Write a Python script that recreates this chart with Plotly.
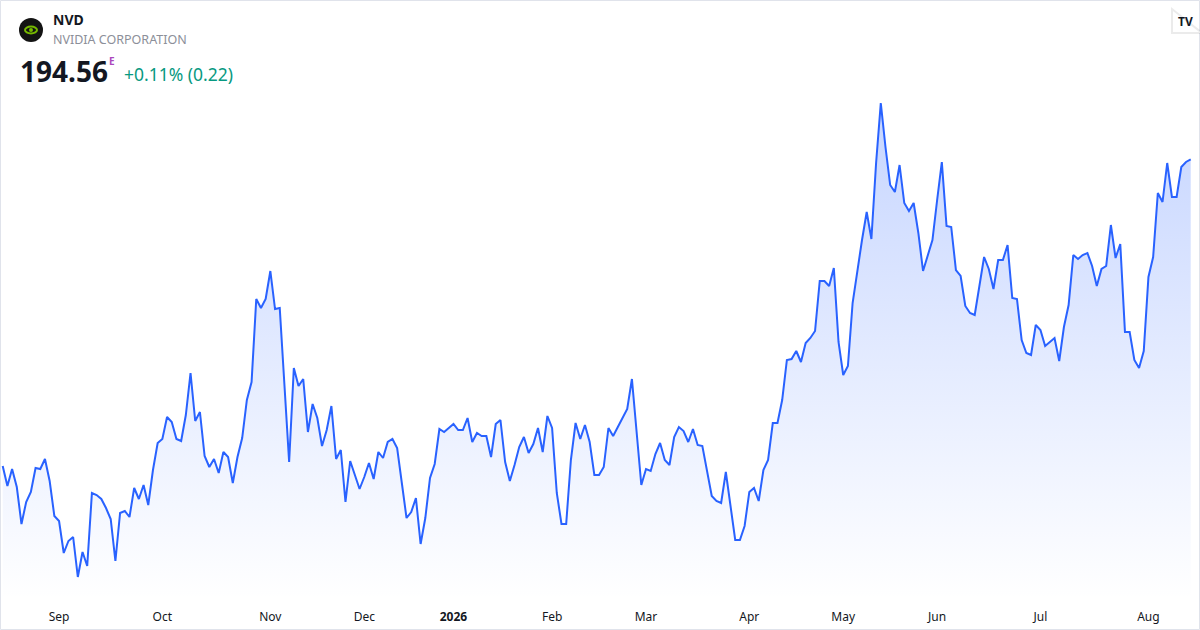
import pandas as pd
import plotly.graph_objects as go

# Xetra-Kalender: Werktage ohne Börsenfeiertage
holidays = ["2025-12-24", "2025-12-25", "2025-12-26", "2025-12-31",
            "2026-01-01", "2026-04-03", "2026-04-06", "2026-05-01"]

# Schlusskurse
prices = [
    # Aug 2025
    163.9, 161.9, 163.6, 161.8, 158.1, 160.3, 161.3, 163.7, 163.6, 164.6, 162.4, 158.9,
    # Sep
    158.4, 155.2, 156.4, 156.8, 152.8, 155.3, 153.9, 161.2, 161.0, 160.6, 159.7, 158.6,
    154.4, 159.2, 159.4, 158.8, 161.7, 160.6, 162.0, 160.0, 163.5, 166.2,
    # Oct
    166.6, 168.8, 168.3, 166.6, 166.4, 169.0, 173.2, 168.4, 169.3, 164.9, 163.8, 164.6,
    163.2, 165.3, 164.8, 162.2, 164.8, 166.7, 170.5, 172.3, 180.6, 179.7, 180.6,
    # Nov
    183.4, 179.6, 179.7, 172.0, 164.3, 173.7, 171.9, 172.6,
    167.3, 170.1, 168.7, 165.9, 167.5, 169.9, 164.6, 165.5, 160.3, 164.4, 163.1, 161.6,
    # Dec
    162.8, 164.2, 162.6, 165.3, 164.7, 166.3, 166.6, 165.7, 162.2, 158.7, 159.3, 160.7,
    156.1, 158.7, 162.7, 164.1, 167.6, 167.3, 167.7,
    # Jan 2026
    168.1, 167.5, 167.5, 168.7, 166.3, 167.2, 166.9, 166.9, 164.8, 168.1, 168.5, 164.3,
    162.4, 164.0, 165.8, 166.8, 165.2, 166.1, 167.7, 165.3, 168.9,
    # Feb
    167.7, 161.2, 158.1, 158.1, 164.5, 168.2, 166.6, 168.0, 166.3, 163.0, 163.0, 163.8,
    167.7, 166.9, 167.8, 168.7, 169.6, 172.6, 167.2, 162.0,
    # Mar
    163.6, 163.4, 165.1, 166.2, 164.5, 164.0, 166.8, 167.8, 167.4, 166.3, 167.6, 166.0,
    165.9, 163.3, 160.9, 160.4, 160.2, 163.3, 160.0, 156.5, 156.5, 157.9,
    # Apr
    161.3, 161.7, 160.4, 163.5, 164.5, 168.2, 168.2, 170.5, 174.5, 174.6, 175.4, 174.3,
    176.2, 176.7, 177.4, 182.4, 182.4, 181.9, 183.7, 176.3,
    # May
    173.0, 173.9, 180.2, 183.5, 186.5, 189.3, 186.6, 194.2, 200.2, 195.8, 192.0, 191.3,
    194.0, 190.2, 189.4, 190.2, 187.2, 183.4, 185.0, 186.5,
    # Jun
    190.5, 194.3, 187.9, 187.8, 183.5, 182.9, 179.9, 179.2, 179.0, 181.8, 184.8, 183.6,
    181.6, 184.5, 184.5, 186.0, 180.7, 180.6, 176.5, 175.2, 175.0, 178.0,
    # Jul
    177.5, 175.9, 176.3, 176.7, 174.4, 177.8, 180.0, 185.0, 184.6, 185.0, 185.2, 183.9,
    181.9, 183.6, 183.9, 188.0, 184.7, 186.1, 177.3, 177.3, 174.5, 173.7, 175.4,
    # Aug
    182.8, 184.8, 191.2, 190.3, 194.2, 190.8, 190.8, 193.8, 194.3, 194.56,
]

month_labels = ["Sep", "Oct", "Nov", "Dec", "<b>2026</b>", "Feb", "Mar", "Apr",
                "May", "Jun", "Jul", "Aug"]

days = pd.bdate_range("2025-08-14", "2026-08-14")
days = days[~days.isin(pd.to_datetime(holidays))][:len(prices)]
dates = [d.strftime("%Y-%m-%d") for d in days]

# erster Handelstag jedes Monats (ab Sep)
firsts = pd.Series(days).groupby(days.to_period("M")).min()
tickvals = [d.strftime("%Y-%m-%d") for d in firsts.iloc[1:]]

W, H, PLOT_H = 1200, 630, 600
y_lo, y_hi = 150.5, 210.5
n = len(dates)


def px(x):
    return x / W


def py(y):
    return 1 - y / PLOT_H


fig = go.Figure()
fig.add_trace(go.Scatter(
    x=dates, y=prices, mode="lines",
    line=dict(color="#2962ff", width=2),
    fill="tozeroy",
    fillgradient=dict(type="vertical", start=y_lo, stop=201,
                      colorscale=[[0, "rgba(41,98,255,0.0)"],
                                  [1, "rgba(41,98,255,0.27)"]]),
    hoverinfo="skip",
))

font = "Noto Sans, Open Sans, sans-serif"
fig.update_layout(
    width=W, height=H,
    margin=dict(l=0, r=0, t=0, b=H - PLOT_H),
    paper_bgcolor="white", plot_bgcolor="white",
    showlegend=False,
    font=dict(family=font, color="#131722"),
    xaxis=dict(type="category", range=[-0.575, n + 0.98],
               tickvals=tickvals, ticktext=month_labels,
               showgrid=False, zeroline=False, showline=False, ticks="",
               tickfont=dict(size=12, color="#131722"),
               ticklabelstandoff=8),
    yaxis=dict(range=[y_lo, y_hi], visible=False, showgrid=False, zeroline=False),
)

# Rahmen
fig.add_shape(type="rect", xref="paper", yref="paper",
              x0=px(0.5), x1=px(W - 0.5), y0=py(H - 0.5), y1=py(0.5),
              line=dict(color="#e0e3eb", width=1), fillcolor="rgba(0,0,0,0)")

# Logo links oben
fig.add_shape(type="circle", xref="paper", yref="paper",
              xsizemode="pixel", ysizemode="pixel",
              xanchor=px(31), yanchor=py(30), x0=-12, x1=12, y0=-12, y1=12,
              fillcolor="#131313", line=dict(width=0))
fig.add_shape(type="circle", xref="paper", yref="paper",
              xsizemode="pixel", ysizemode="pixel",
              xanchor=px(31), yanchor=py(30), x0=-6, x1=6, y0=-3.5, y1=3.5,
              fillcolor="rgba(0,0,0,0)", line=dict(color="#76b900", width=2))
fig.add_shape(type="circle", xref="paper", yref="paper",
              xsizemode="pixel", ysizemode="pixel",
              xanchor=px(31), yanchor=py(30), x0=-2, x1=2, y0=-2, y1=2,
              fillcolor="#76b900", line=dict(width=0))

ann = [
    dict(x=51, y=20, text="<b>NVD</b>", size=14, color="#131722"),
    dict(x=51, y=40, text="NVIDIA CORPORATION", size=12.5, color="#8c8f99"),
    dict(x=18, y=71, text="<b>194.56</b>", size=28, color="#131722"),
    dict(x=107, y=61, text="<b>E</b>", size=10, color="#ab47bc"),
    dict(x=122, y=74, text="+0.11% (0.22)", size=17.5, color="#089981"),
]
for a in ann:
    fig.add_annotation(x=px(a["x"]), y=py(a["y"]), xref="paper", yref="paper",
                       xanchor="left", yanchor="middle", showarrow=False,
                       text=a["text"], font=dict(size=a["size"], color=a["color"]))

# TradingView-Logo rechts oben: weiße Pille mit leichtem Schatten
pill = "M -16,-12 L 14,-12 A 12,12 0 0 1 14,12 L -16,12 A 12,12 0 0 1 -16,-12 Z"
fig.add_shape(type="path", xref="paper", yref="paper",
              xsizemode="pixel", ysizemode="pixel",
              xanchor=px(1188), yanchor=py(21), path=pill,
              fillcolor="white", line=dict(color="rgba(0,0,0,0.08)", width=2))
fig.add_annotation(x=px(1185), y=py(21), xref="paper", yref="paper",
                   xanchor="center", yanchor="middle", showarrow=False,
                   text="<b>TV</b>", font=dict(size=12, color="#131722"))

# Seitenrand des Browsers entfernen, damit die Grafik bei (0, 0) beginnt
fig.write_html("out.html",
               config={"displayModeBar": False},
               post_script="document.body.style.margin='0';"
                           "document.body.style.overflow='hidden';")
